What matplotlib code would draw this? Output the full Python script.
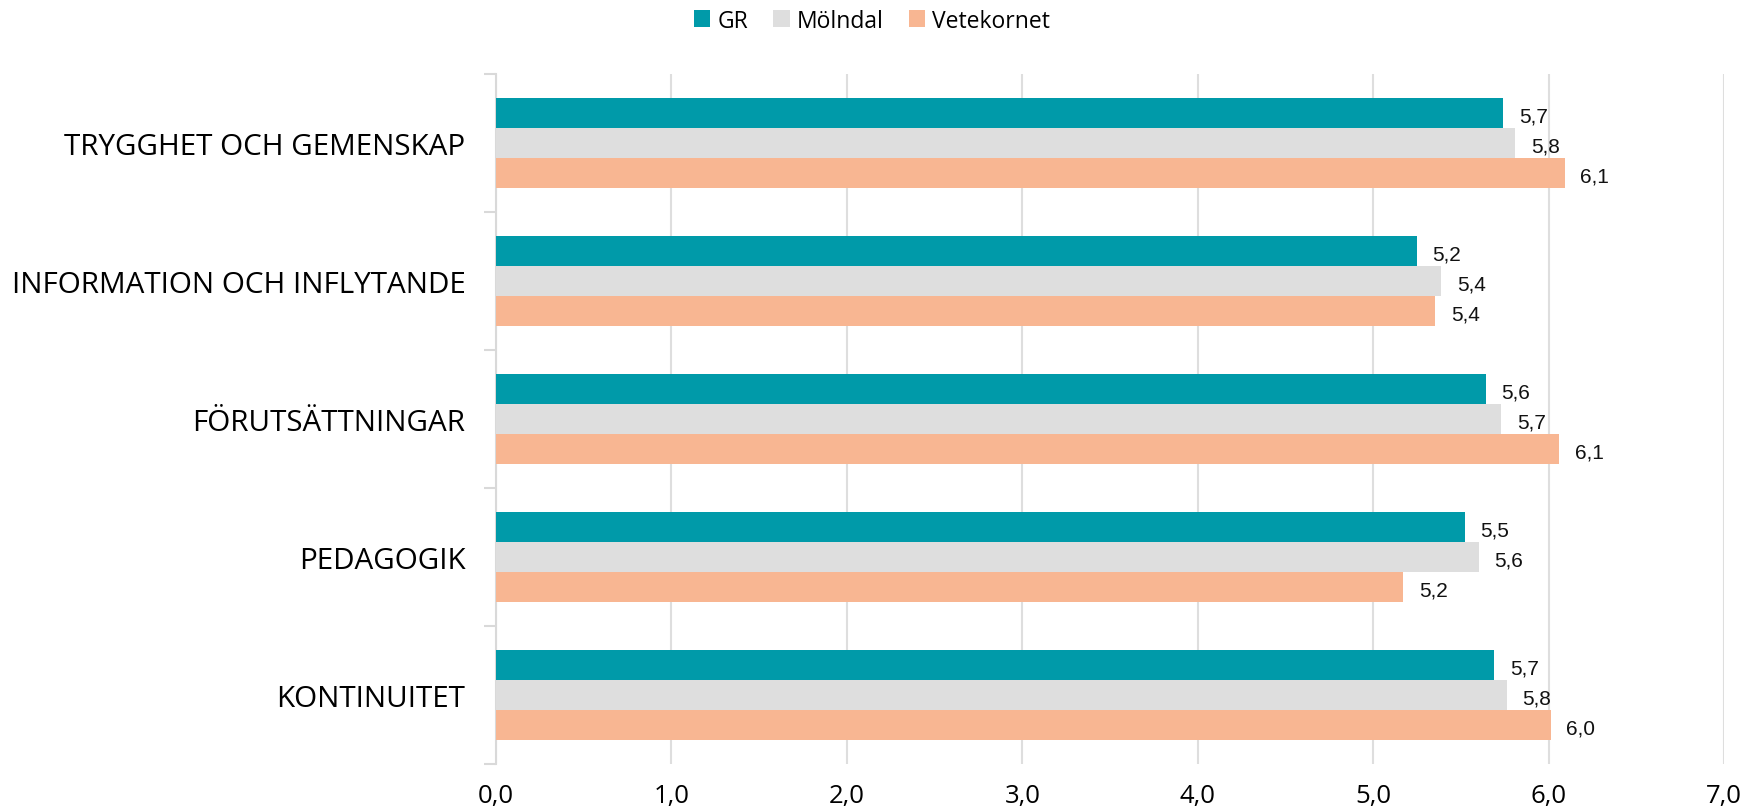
import matplotlib
matplotlib.use("Agg")
import matplotlib.pyplot as plt
import numpy as np

categories = ["TRYGGHET OCH GEMENSKAP", "INFORMATION OCH INFLYTANDE",
              "FÖRUTSÄTTNINGAR", "PEDAGOGIK", "KONTINUITET"]
series_names = ["GR", "Mölndal", "Vetekornet"]
gr = [5.74, 5.246, 5.64, 5.52, 5.69]
molndal = [5.81, 5.385, 5.73, 5.60, 5.76]
vetekornet = [6.09, 5.354, 6.06, 5.17, 6.01]
colors = ["#009aa9", "#dedede", "#f8b692"]
xticks = [0, 1, 2, 3, 4, 5, 6, 7]

fig = plt.figure(figsize=(17.44, 8.12), dpi=100)
ax = fig.add_axes([0.2844, 0.0579, 0.9887 - 0.2844, 0.9076 - 0.0579])

n = len(categories)
h = 0.217
y = np.arange(n)
data = [gr, molndal, vetekornet]
for i, (name, vals, c) in enumerate(zip(series_names, data, colors)):
    pos = y + (i - 1) * h
    ax.barh(pos, vals, height=h, color=c, label=name, zorder=3)
    for p, v in zip(pos, vals):
        ax.text(v + 0.09, p + 0.02, f"{v:.1f}".replace(".", ","), va="center", ha="left",
                fontsize=15, family="Liberation Sans", color="#111111")

ax.set_ylim(n - 0.5, -0.5)
ax.set_xlim(0, 7)
ax.set_xticks(xticks)
ax.set_xticklabels([f"{t:.1f}".replace(".", ",") for t in xticks],
                   fontsize=18.5, family="Open Sans")
ax.set_yticks(np.arange(n + 1) - 0.5, minor=False)
ax.set_yticklabels([])
ax.set_yticks(y, minor=True)
ax.set_yticklabels(categories, minor=True, fontsize=21.3, family="Open Sans")
ax.tick_params(axis="y", which="minor", length=0, pad=22)
ax.tick_params(axis="y", which="major", length=9, color="#d9d9d9", width=1.5)
ax.tick_params(axis="x", length=0, pad=14)
ax.grid(axis="x", color="#dedede", linewidth=1.5, zorder=0)
for s in ["top", "right", "bottom"]:
    ax.spines[s].set_visible(False)
ax.spines["left"].set_color("#d9d9d9")
ax.spines["left"].set_linewidth(1.5)

leg = fig.legend(loc="center", bbox_to_anchor=(0.5, 0.9735), ncol=3, frameon=False,
                 prop={"family": "Open Sans", "size": 16.5}, handlelength=0.72,
                 handleheight=0.72, handletextpad=0.3, columnspacing=1.1)

fig.savefig("out.png", dpi=100)
